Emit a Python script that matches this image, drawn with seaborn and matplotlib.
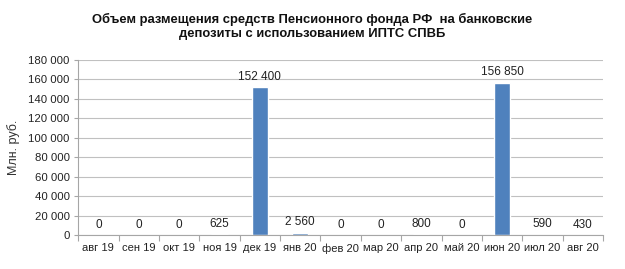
import matplotlib
matplotlib.use("Agg")
import matplotlib.pyplot as plt
import seaborn as sns
import pandas as pd
from matplotlib.ticker import FuncFormatter, FixedLocator

months = ["авг 19", "сен 19", "окт 19", "ноя 19", "дек 19", "янв 20", "фев 20",
          "мар 20", "апр 20", "май 20", "июн 20", "июл 20", "авг 20"]
values = [0, 0, 0, 625, 152400, 2560, 0, 0, 800, 0, 156850, 590, 430]
title = "Объем размещения средств Пенсионного фонда РФ  на банковские\nдепозиты с использованием ИПТС СПВБ"
ylabel = "Млн. руб."

sns.set_style("white")
plt.rcParams['font.family'] = ['Liberation Sans', 'DejaVu Sans']

df = pd.DataFrame({"month": months, "value": values})

fig = plt.figure(figsize=(6.25, 2.69), dpi=100)
ax = fig.add_axes([0.125, 0.126, 0.84, 0.651])

sns.barplot(data=df, x="month", y="value", color="#4F81BD", width=0.4,
            saturation=1, ax=ax)

def fmt(v):
    return f"{int(round(v)):,}".replace(",", " ")

for cont in ax.containers:
    ax.bar_label(cont, labels=[fmt(v) for v in values], padding=3,
                 fontsize=8.5, color="#222222")

ax.set_ylim(0, 180000)
ax.set_xlim(-0.5, len(months) - 0.5)
ax.set_yticks(range(0, 180001, 20000))
ax.yaxis.set_major_formatter(FuncFormatter(lambda v, p: fmt(v)))
ax.yaxis.grid(True, color="#C0C0C0", linewidth=0.8)
ax.set_axisbelow(True)

for s in ["top", "right"]:
    ax.spines[s].set_visible(False)
for s in ["left", "bottom"]:
    ax.spines[s].set_color("#A6A6A6")
    ax.spines[s].set_linewidth(0.8)

ax.tick_params(axis="y", labelsize=8.2, colors="#A6A6A6", labelcolor="#222222",
               length=3, width=0.8, left=True, pad=3)
ax.tick_params(axis="x", which="major", labelsize=8, length=0, pad=6,
               labelcolor="#222222")
ax.xaxis.set_minor_locator(FixedLocator([i + 0.5 for i in range(-1, len(months))]))
ax.tick_params(axis="x", which="minor", length=4, width=0.8, color="#A6A6A6",
               bottom=True)

ax.set_xlabel("")
ax.set_ylabel(ylabel, fontsize=9, color="#333333", labelpad=6)

fig.text(0.5, 0.952, title, ha="center", va="top", fontsize=9.4,
         fontweight="bold", color="#111111", linespacing=1.2)

fig.savefig("out.png", dpi=100)
